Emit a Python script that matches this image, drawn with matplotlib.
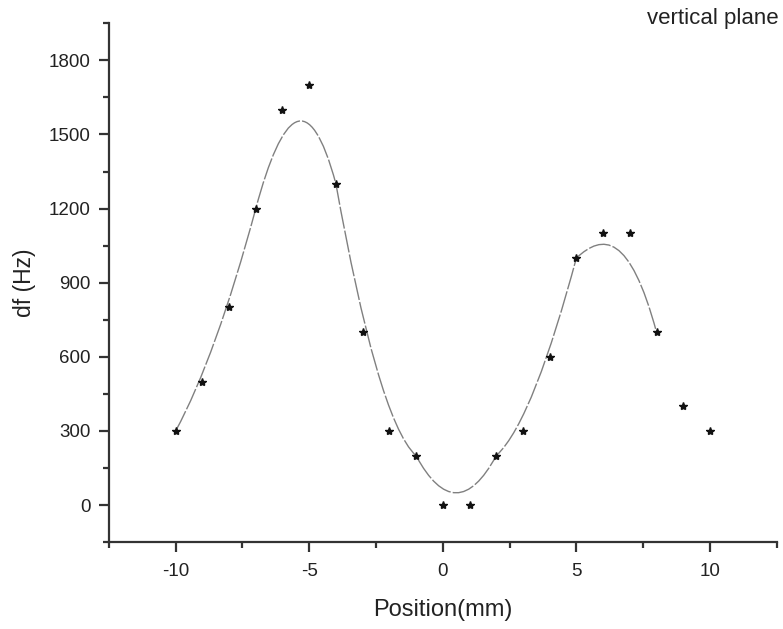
import matplotlib.pyplot as plt
from matplotlib.path import Path
from matplotlib.patches import PathPatch
from matplotlib.ticker import MultipleLocator

plt.rcParams['font.family'] = ['Liberation Sans', 'DejaVu Sans']
plt.rcParams['axes.unicode_minus'] = False

position = [-10, -9, -8, -7, -6, -5, -4, -3, -2, -1, 0, 1, 2, 3, 4, 5, 6, 7, 8, 9, 10]
df = [300, 500, 800, 1200, 1600, 1700, 1300, 700, 300, 200, 0, 0, 200, 300, 600, 1000, 1100, 1100, 700, 400, 300]
n_curve = 19  # bezier connection over -10..8 mm

fig = plt.figure(figsize=(7.83, 6.29), dpi=100)
ax = fig.add_axes([0.139, 0.138, 0.853, 0.825])

# cubic bezier through the points, every third point is an anchor
verts = list(zip(position[:n_curve], df[:n_curve]))
codes = [Path.MOVETO] + [Path.CURVE4] * (n_curve - 1)
curve = PathPatch(Path(verts, codes), facecolor='none', edgecolor='#808080',
                  linewidth=1.0, linestyle=(0, (16, 1.5)))
ax.add_patch(curve)
ax.plot(position, df, linestyle='none', marker='*', color='#111111', markersize=6)

ax.set_xlim(-12.5, 12.5)
ax.set_ylim(-150, 1950)
ax.xaxis.set_major_locator(MultipleLocator(5))
ax.xaxis.set_minor_locator(MultipleLocator(2.5))
ax.set_yticks([0, 300, 600, 900, 1200, 1500, 1800])
ax.yaxis.set_minor_locator(MultipleLocator(150))

for s in ['top', 'right']:
    ax.spines[s].set_visible(False)
for s in ['left', 'bottom']:
    ax.spines[s].set_linewidth(1.6)
    ax.spines[s].set_color('#333333')
ax.tick_params(which='major', direction='out', length=7, width=1.6, labelsize=13.5,
               colors='#333333', labelcolor='#222222', pad=6)
ax.tick_params(which='minor', direction='out', length=4.5, width=1.6, colors='#333333')
ax.tick_params(axis='x', which='major', pad=8)

ax.set_xlabel('Position(mm)', fontsize=17, color='#222222', labelpad=14)
ax.set_ylabel('df (Hz)', fontsize=16.5, color='#222222', labelpad=9)
fig.text(0.994, 0.971, 'vertical plane', ha='right', va='center', fontsize=16, color='#222222')

fig.savefig('out.png', dpi=100)
